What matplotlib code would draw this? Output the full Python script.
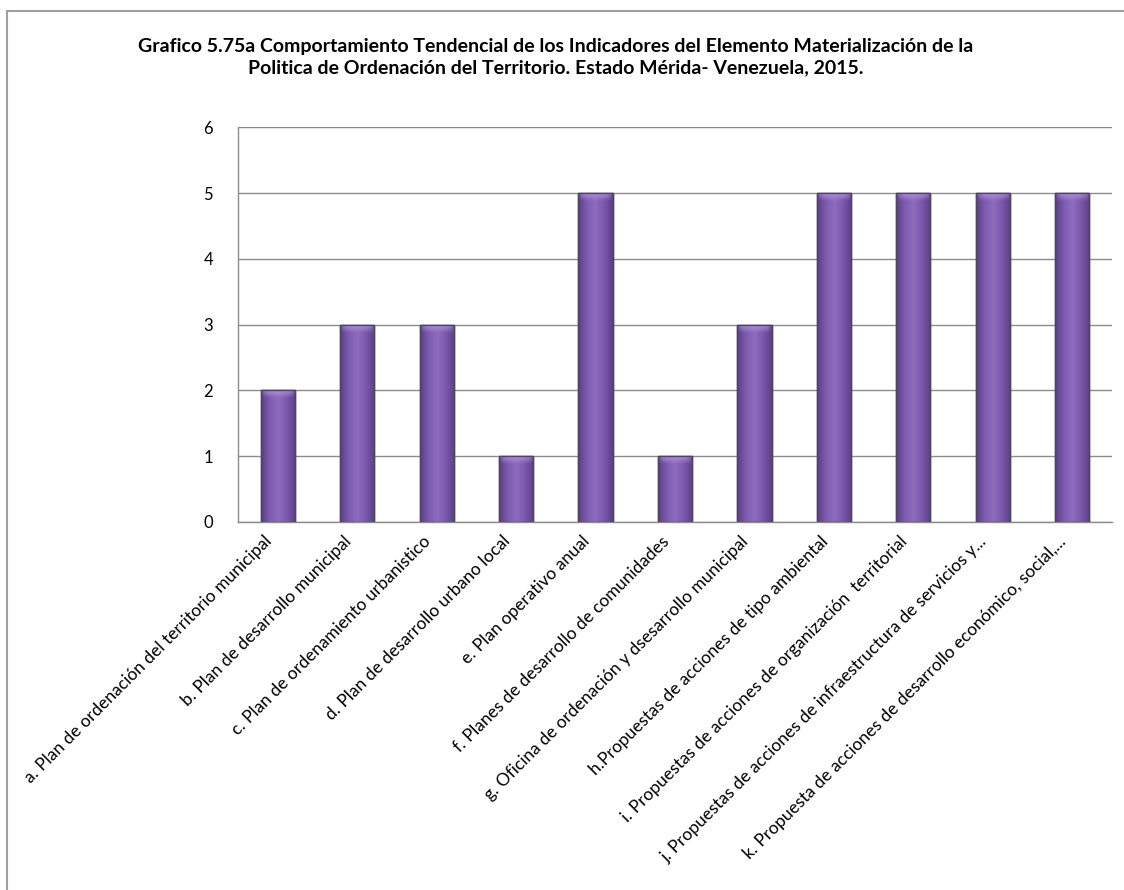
import numpy as np
import matplotlib
matplotlib.use("Agg")
import matplotlib.pyplot as plt
from matplotlib.colors import LinearSegmentedColormap
from matplotlib.patches import Rectangle
from matplotlib.transforms import ScaledTranslation

plt.rcParams['font.family'] = ['Lato', 'DejaVu Sans']

categories = [
    "a. Plan de ordenación del territorio municipal",
    "b. Plan de desarrollo municipal",
    "c. Plan de ordenamiento urbanistico",
    "d. Plan de desarrollo urbano local",
    "e. Plan operativo anual",
    "f. Planes de desarrollo de comunidades",
    "g. Oficina de ordenación y dsesarrollo municipal",
    "h.Propuestas de acciones de tipo ambiental",
    "i. Propuestas de acciones de organización  territorial",
    "j. Propuestas de acciones de infraestructura de servicios y...",
    "k. Propuesta de acciones de desarrollo económico, social,...",
]
values = [2, 3, 3, 1, 5, 1, 3, 5, 5, 5, 5]
yticks = [0, 1, 2, 3, 4, 5, 6]

title = ("Grafico 5.75a Comportamiento Tendencial de los Indicadores del Elemento Materialización de la\n"
         "Politica de Ordenación del Territorio. Estado Mérida- Venezuela, 2015.")

fig = plt.figure(figsize=(11.24, 8.9), dpi=100)
ax = fig.add_axes([0.2117, 0.4135, 0.7776, 0.4435])

# outer chart frame
fig.patches.append(Rectangle((7 / 1124, -0.01), 1.2, 1 - 11 / 890 + 0.01,
                             transform=fig.transFigure, fill=False,
                             edgecolor='#a0a0a0', linewidth=1.5, zorder=0))

x = np.arange(len(categories))
bars = ax.bar(x, values, width=0.43, color='#7b58ad', edgecolor='#4e4560',
              linewidth=1.0, zorder=3)

# cylindrical shading across each bar, with a lighter cap on top
shade = LinearSegmentedColormap.from_list(
    'shade', ['#5a3d85', '#7d5cb0', '#8e6cc0', '#7a58ab', '#5c3f88'])
grad = np.linspace(0, 1, 64)[None, :]
for b in bars:
    x0, w, h = b.get_x(), b.get_width(), b.get_height()
    im = ax.imshow(np.repeat(grad, 2, axis=0), cmap=shade, aspect='auto',
                   extent=(x0, x0 + w, 0, h), zorder=3.1, interpolation='bicubic')
    im.set_clip_path(b)
    cap = min(0.12, h * 0.2)
    vert = np.linspace(1, 0, 32)[:, None] * np.ones((1, 64))
    edge = 1 - np.abs(np.linspace(-1, 1, 64))[None, :] ** 6
    alpha = vert * edge * 0.85
    rgba = np.zeros((32, 64, 4))
    rgba[..., :3] = matplotlib.colors.to_rgb('#b49ae0')
    rgba[..., 3] = alpha
    im2 = ax.imshow(rgba, aspect='auto', extent=(x0, x0 + w, h - cap, h),
                    zorder=3.2, interpolation='bicubic')
    im2.set_clip_path(b)
    ax.add_patch(Rectangle((x0, 0), w, h, fill=False, edgecolor='#4e4560',
                           linewidth=1.0, zorder=3.3))

ax.set_xlim(-0.5, len(categories) - 0.5)
ax.set_ylim(0, 6)
ax.set_yticks(yticks)
ax.set_yticklabels([str(t) for t in yticks], fontsize=12)
ax.set_xticks(x)
ax.set_xticklabels(categories, rotation=45, ha='right', rotation_mode='anchor',
                   fontsize=12.5)
ax.tick_params(axis='x', length=0, pad=8)
ax.tick_params(axis='y', length=0, pad=18)

shift = ScaledTranslation(-14 / 100, 0, fig.dpi_scale_trans)
for lbl in ax.get_xticklabels():
    lbl.set_transform(lbl.get_transform() + shift)

ax.grid(axis='y', color='#8c8c8c', linewidth=1.0, zorder=0)
ax.set_axisbelow(True)
for s in ['top', 'right']:
    ax.spines[s].set_visible(False)
for s in ['left', 'bottom']:
    ax.spines[s].set_color('#8c8c8c')
    ax.spines[s].set_linewidth(1.0)

fig.text(0.494, 1 - 57 / 890, title, ha='center', va='center', fontsize=14,
         fontweight='bold', linespacing=1.25)

fig.savefig('out.png', dpi=100)
